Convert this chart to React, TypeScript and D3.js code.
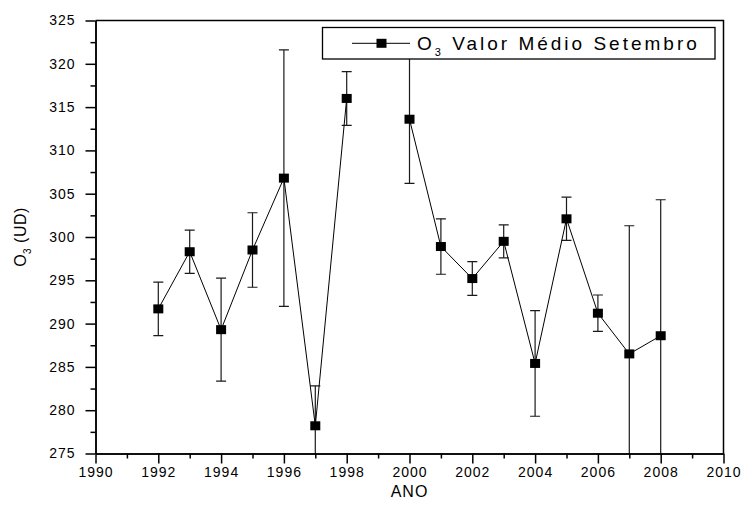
import { useEffect, useRef } from "react";
import * as d3 from "d3";

// September mean O3 per year (1999 missing -> line break)
const years = [1992, 1993, 1994, 1995, 1996, 1997, 1998, 1999, 2000, 2001, 2002, 2003, 2004, 2005, 2006, 2007, 2008];
const meanO3 = [291.7, 298.3, 289.3, 298.5, 306.8, 278.2, 316.0, null, 313.6, 298.9, 295.2, 299.5, 285.4, 302.1, 291.2, 286.5, 288.6];
const errO3 = [3.1, 2.5, 5.95, 4.3, 14.8, 4.6, 3.1, null, 7.4, 3.2, 1.95, 1.9, 6.1, 2.5, 2.1, 14.8, 15.7];

const xTicks = [1990, 1992, 1994, 1996, 1998, 2000, 2002, 2004, 2006, 2008, 2010];
const yTicks = [275, 280, 285, 290, 295, 300, 305, 310, 315, 320, 325];

const FONT = "'Liberation Sans', Arial, sans-serif";

const App = () => {
  const svgRef = useRef<SVGSVGElement>(null);

  useEffect(() => {
    const svg = d3.select(svgRef.current);
    svg.selectAll("*").remove();

    const left = 95.5, right = 723.5, top = 20.5, bottom = 453.5;

    const x = d3.scaleLinear().domain([1990, 2010]).range([left, right]);
    const y = d3.scaleLinear().domain([275, 325]).range([bottom, top]);

    const rows = years.map((yr, i) => ({ yr, v: meanO3[i], e: errO3[i] }));
    const valid = rows.filter(d => d.v != null) as { yr: number; v: number; e: number }[];

    svg.append("defs").append("clipPath").attr("id", "plotclip")
      .append("rect").attr("x", left).attr("y", top).attr("width", right - left).attr("height", bottom - top);

    const plot = svg.append("g").attr("clip-path", "url(#plotclip)");

    // error bars
    const cap = 5;
    const eb = plot.append("g").attr("stroke", "#1a1a1a").attr("stroke-width", 1.2);
    valid.forEach(d => {
      eb.append("line").attr("x1", x(d.yr)).attr("x2", x(d.yr))
        .attr("y1", y(d.v - d.e)).attr("y2", y(d.v + d.e));
      eb.append("line").attr("x1", x(d.yr) - cap).attr("x2", x(d.yr) + cap)
        .attr("y1", y(d.v + d.e)).attr("y2", y(d.v + d.e));
      eb.append("line").attr("x1", x(d.yr) - cap).attr("x2", x(d.yr) + cap)
        .attr("y1", y(d.v - d.e)).attr("y2", y(d.v - d.e));
    });

    // connecting line
    const line = d3.line<any>()
      .defined(d => d.v != null)
      .x(d => x(d.yr))
      .y(d => y(d.v));
    plot.append("path").datum(rows).attr("d", line)
      .attr("fill", "none").attr("stroke", "#000").attr("stroke-width", 1);

    // markers
    plot.append("g").selectAll("rect").data(valid).join("rect")
      .attr("x", d => x(d.yr) - 5).attr("y", d => y(d.v) - 4.5)
      .attr("width", 10).attr("height", 9).attr("fill", "#000");

    // axes
    const xAxis = d3.axisBottom(x).tickValues(xTicks).tickFormat(d3.format("d")).tickSize(10).tickSizeOuter(0);
    const xMinor = d3.axisBottom(x).tickValues(d3.range(1991, 2010, 2)).tickFormat(() => "").tickSize(5).tickSizeOuter(0);
    const yAxis = d3.axisLeft(y).tickValues(yTicks).tickFormat(d3.format("d")).tickSize(10).tickSizeOuter(0);
    const yMinor = d3.axisLeft(y).tickValues(d3.range(277.5, 325, 5)).tickFormat(() => "").tickSize(5).tickSizeOuter(0);

    const styleAxis = (g: any) => {
      g.selectAll("path").attr("stroke", "#000").attr("stroke-width", 1.5);
      g.selectAll("line").attr("stroke", "#000").attr("stroke-width", 1.5);
      g.selectAll("text").attr("font-family", FONT).attr("font-size", 14)
        .attr("letter-spacing", "1px").attr("fill", "#000");
    };

    svg.append("g").attr("transform", `translate(0,${bottom})`).call(xMinor).call(styleAxis);
    svg.append("g").attr("transform", `translate(0,${bottom})`).call(xAxis).call(styleAxis)
      .selectAll("text").attr("y", 14).attr("dy", "0.71em");
    svg.append("g").attr("transform", `translate(${left},0)`).call(yMinor).call(styleAxis);
    svg.append("g").attr("transform", `translate(${left},0)`).call(yAxis).call(styleAxis)
      .selectAll("text").attr("x", -20);

    // frame top / right
    svg.append("path").attr("d", `M${left},${top}H${right}V${bottom}`)
      .attr("fill", "none").attr("stroke", "#000").attr("stroke-width", 1.5);

    // axis titles
    svg.append("text").attr("x", (left + right) / 2).attr("y", 497)
      .attr("text-anchor", "middle").attr("font-family", FONT).attr("font-size", 16)
      .attr("letter-spacing", "1px").text("ANO");

    const yt = svg.append("text").attr("transform", `translate(26,${(top + bottom) / 2}) rotate(-90)`)
      .attr("text-anchor", "middle").attr("font-family", FONT).attr("font-size", 16)
      .attr("letter-spacing", "0.5px");
    yt.append("tspan").text("O");
    yt.append("tspan").attr("font-size", 10).attr("dy", 5).text("3");
    yt.append("tspan").attr("dy", -5).text(" (UD)");

    // legend
    const lg = svg.append("g");
    lg.append("rect").attr("x", 322.5).attr("y", 27.5).attr("width", 392.5).attr("height", 31.5)
      .attr("fill", "#fff").attr("stroke", "#000").attr("stroke-width", 1.3);
    lg.append("line").attr("x1", 352).attr("x2", 410).attr("y1", 43.3).attr("y2", 43.3)
      .attr("stroke", "#000").attr("stroke-width", 1);
    lg.append("rect").attr("x", 376.5).attr("y", 38.8).attr("width", 10).attr("height", 9).attr("fill", "#000");
    const lt = lg.append("text").attr("x", 417).attr("y", 50).attr("font-family", FONT)
      .attr("font-size", 19).attr("letter-spacing", "3px");
    lt.append("tspan").text("O");
    lt.append("tspan").attr("font-size", 11).attr("dy", 6).text("3");
    lt.append("tspan").attr("dy", -6).text(" Valor Médio Setembro");
  }, []);

  return (
    <svg ref={svgRef} width={745} height={513}
      style={{ position: "absolute", left: 0, top: 0, background: "#fff" }} />
  );
};

export default App;
